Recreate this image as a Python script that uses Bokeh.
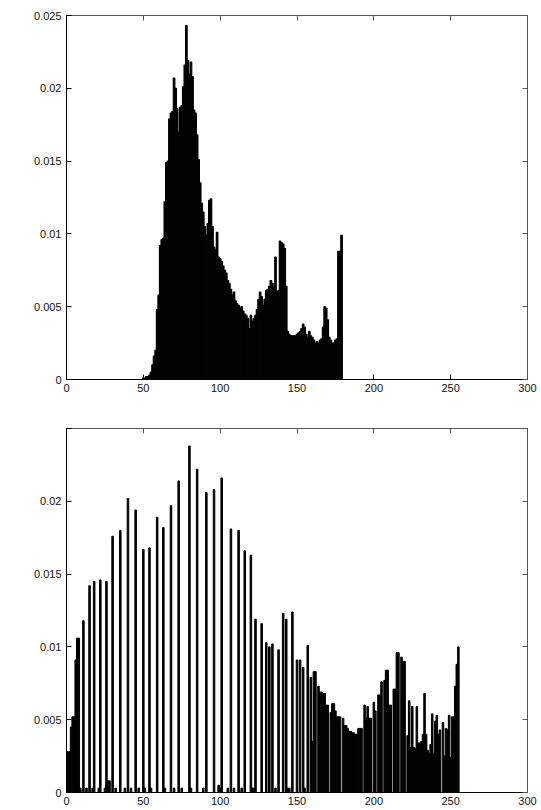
from bokeh.plotting import figure
from bokeh.layouts import column
from bokeh.models import LinearAxis, FixedTicker, Range1d, CustomJSTickFormatter, ColumnDataSource
from bokeh.embed import file_html
from bokeh.resources import INLINE

# ---------------- data ----------------
# Top histogram: bins centred on integers 50..179
top_bins = list(range(50, 180))
top_values = [
    0.0001, 0.0001, 0.0002, 0.0002, 0.0003, 0.0005, 0.0010, 0.0016, 0.0020, 0.0048,  # 50-59
    0.0058, 0.0092, 0.0096, 0.0097, 0.0122, 0.0149, 0.0150, 0.0179, 0.0183, 0.0184,  # 60-69
    0.0207, 0.0200, 0.0186, 0.0170, 0.0187, 0.0188, 0.0201, 0.0216, 0.0243, 0.0219,  # 70-79
    0.0210, 0.0218, 0.0208, 0.0185, 0.0183, 0.0168, 0.0151, 0.0135, 0.0121, 0.0115,  # 80-89
    0.0105, 0.0099, 0.0107, 0.0123, 0.0124, 0.0105, 0.0091, 0.0089, 0.0101, 0.0084,  # 90-99
    0.0083, 0.0081, 0.0078, 0.0075, 0.0073, 0.0068, 0.0066, 0.0062, 0.0058, 0.0060,  # 100-109
    0.0054, 0.0052, 0.0051, 0.0049, 0.0050, 0.0047, 0.0045, 0.0044, 0.0042, 0.0035,  # 110-119
    0.0044, 0.0040, 0.0042, 0.0044, 0.0048, 0.0055, 0.0060, 0.0057, 0.0051, 0.0055,  # 120-129
    0.0061, 0.0062, 0.0064, 0.0068, 0.0066, 0.0063, 0.0084, 0.0060, 0.0061, 0.0095,  # 130-139
    0.0094, 0.0093, 0.0090, 0.0064, 0.0033, 0.0031, 0.0030, 0.0030, 0.0030, 0.0030,  # 140-149
    0.0031, 0.0032, 0.0033, 0.0035, 0.0038, 0.0036, 0.0031, 0.0029, 0.0033, 0.0030,  # 150-159
    0.0029, 0.0027, 0.0025, 0.0026, 0.0025, 0.0027, 0.0028, 0.0036, 0.0050, 0.0049,  # 160-169
    0.0041, 0.0029, 0.0027, 0.0025, 0.0025, 0.0027, 0.0028, 0.0088, 0.0088, 0.0099,  # 170-179
]

# Bottom histogram (equalised), sparse part: non-empty bins 0..159
comb_bins = [
    0, 1, 2, 3, 4, 5, 6, 7, 8, 9,
    11, 13, 15, 17, 18, 21, 22, 25, 26, 27, 28, 30, 32, 35, 38, 40, 42, 45, 47, 50,
    51, 54, 55, 59, 63, 64, 68, 70, 73, 75, 80, 81, 85, 89, 91, 96, 99, 101, 105, 107,
    109, 112, 114, 116, 120, 121, 122, 123, 127, 130, 132, 134, 136, 138, 141, 143, 144, 145,
    147, 150, 152, 154, 155, 157, 159,
]
comb_values = [
    0.0028, 0.0028, 0.0028, 0.0045, 0.0052, 0.0052, 0.0091, 0.0106, 0.0106, 0.0003,
    0.0118, 0.0003, 0.0142, 0.0003, 0.0145, 0.0003, 0.0146, 0.0003, 0.0145, 0.0008,
    0.0008, 0.0176, 0.0003, 0.0180, 0.0003, 0.0202, 0.0003, 0.0194, 0.0003, 0.0167,
    0.0003, 0.0168, 0.0003, 0.0189, 0.0182, 0.0003, 0.0197, 0.0003, 0.0214, 0.0003,
    0.0238, 0.0003, 0.0222, 0.0003, 0.0206, 0.0208, 0.0005, 0.0216, 0.0003, 0.0181,
    0.0003, 0.0180, 0.0003, 0.0166, 0.0163, 0.0003, 0.0003, 0.0119, 0.0116, 0.0103,
    0.0100, 0.0102, 0.0003, 0.0098, 0.0123, 0.0119, 0.0003, 0.0003,
    0.0124, 0.0091, 0.0091, 0.0086, 0.0003, 0.0101, 0.0079,
]

# Bottom histogram, dense part: every bin 160..255
dense_start = 160
dense_values = [
    0.0035, 0.0083, 0.0083, 0.0000, 0.0073, 0.0069, 0.0069, 0.0068, 0.0068, 0.0060,  # 160-169
    0.0060, 0.0000, 0.0055, 0.0061, 0.0061, 0.0056, 0.0052, 0.0052, 0.0052, 0.0000,  # 170-179
    0.0051, 0.0046, 0.0046, 0.0044, 0.0042, 0.0042, 0.0041, 0.0041, 0.0040, 0.0040,  # 180-189
    0.0044, 0.0044, 0.0044, 0.0000, 0.0060, 0.0051, 0.0059, 0.0051, 0.0051, 0.0000,  # 190-199
    0.0062, 0.0056, 0.0000, 0.0067, 0.0067, 0.0076, 0.0000, 0.0077, 0.0084, 0.0084,  # 200-209
    0.0060, 0.0060, 0.0000, 0.0071, 0.0071, 0.0096, 0.0096, 0.0000, 0.0093, 0.0090,  # 210-219
    0.0090, 0.0000, 0.0039, 0.0063, 0.0031, 0.0059, 0.0031, 0.0030, 0.0059, 0.0034,  # 220-229
    0.0034, 0.0035, 0.0040, 0.0068, 0.0040, 0.0029, 0.0027, 0.0033, 0.0054, 0.0027,  # 230-239
    0.0049, 0.0053, 0.0040, 0.0043, 0.0000, 0.0048, 0.0025, 0.0044, 0.0043, 0.0053,  # 240-249
    0.0024, 0.0052, 0.0052, 0.0073, 0.0088, 0.0100,                                  # 250-255
]

x_ticks = [0, 50, 100, 150, 200, 250, 300]
y_ticks = [0, 0.005, 0.01, 0.015, 0.02, 0.025]

FONT = "Liberation Sans"
FMT_CODE = "return String(Number(tick.toPrecision(6)));"
FMT_CODE_NOTOP = "if (tick > 0.0249) { return ''; } return String(Number(tick.toPrecision(6)));"


def style_axis(ax, ticks, show_labels, line_color, fmt_code=FMT_CODE):
    ax.ticker = FixedTicker(ticks=ticks)
    ax.minor_tick_line_color = None
    ax.major_tick_in = 5
    ax.major_tick_out = 0
    ax.axis_line_color = line_color
    ax.major_tick_line_color = line_color
    ax.axis_line_width = 1
    ax.formatter = CustomJSTickFormatter(code=fmt_code)
    if show_labels:
        ax.major_label_text_font = FONT
        ax.major_label_text_font_size = "11px"
        ax.major_label_text_color = "#111111"
        ax.major_label_standoff = 4
    else:
        ax.major_label_text_font_size = "0px"
        ax.major_label_standoff = 0
        ax.major_label_text_alpha = 0


def make_fig(bins, values, left, right, top, bottom, y_fmt, edge_width):
    p = figure(width=541, height=405, output_backend="svg", toolbar_location=None,
               title=None, x_range=Range1d(0, 300), y_range=Range1d(0, 0.025),
               min_border_left=left, min_border_right=right,
               min_border_top=top, min_border_bottom=bottom)
    p.xgrid.visible = False
    p.ygrid.visible = False
    p.outline_line_color = "#555555"
    p.background_fill_color = "white"
    p.border_fill_color = "white"
    src = ColumnDataSource(dict(x=bins, top=values))
    p.vbar(x="x", top="top", bottom=0, width=1.0, source=src,
           fill_color="black", line_color="black", line_width=edge_width)
    style_axis(p.xaxis[0], x_ticks, True, "black")
    style_axis(p.yaxis[0], y_ticks, True, "black", y_fmt)
    p.yaxis[0].major_label_standoff = 5
    ax_top = LinearAxis()
    style_axis(ax_top, x_ticks, False, "#555555")
    p.add_layout(ax_top, "above")
    ax_right = LinearAxis()
    style_axis(ax_right, y_ticks, False, "#555555")
    p.add_layout(ax_right, "right")
    return p


dense_bins = [dense_start + i for i, v in enumerate(dense_values) if v > 0]
dense_nonzero = [v for v in dense_values if v > 0]
bottom_bins = comb_bins + dense_bins
bottom_values = comb_values + dense_nonzero

p1 = make_fig(top_bins, top_values, 62, 14, 15, 26, FMT_CODE, 1.2)
p2 = make_fig(bottom_bins, bottom_values, 66, 10, 23, 18, FMT_CODE_NOTOP, 1.0)

layout = column(p1, p2, spacing=0)
open("out.html", "w").write(file_html(layout, INLINE))
